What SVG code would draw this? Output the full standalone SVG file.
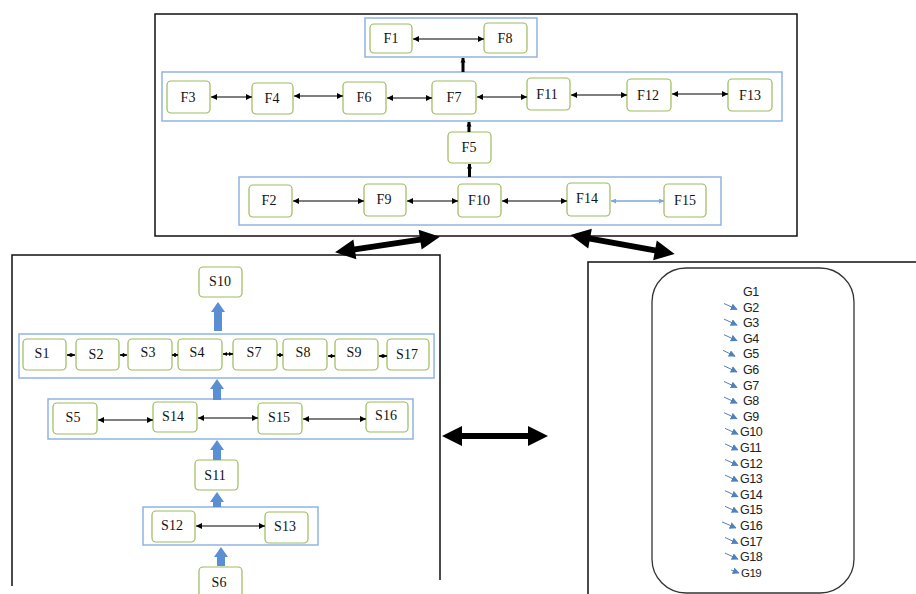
<svg xmlns="http://www.w3.org/2000/svg" width="916" height="594" viewBox="0 0 916 594">
<style>
.node rect{fill:#fff;stroke:#9bbb59;stroke-width:1.2}
.node text{font-family:"Liberation Serif","Times New Roman",serif;font-size:14px;fill:#111;text-anchor:middle}
.grp{fill:none;stroke:#8eb4e3;stroke-width:1.5}
.frame{fill:none;stroke:#111;stroke-width:1.5}
.thin{stroke:#000;stroke-width:1.2;fill:none;marker-start:url(#ah);marker-end:url(#ah)}
.thinb{stroke:#7fa7d9;stroke-width:1.5;fill:none;marker-start:url(#ahb);marker-end:url(#ahb)}
.tiny{stroke:#000;stroke-width:1.5;fill:none;marker-start:url(#aht);marker-end:url(#aht)}
.vert{stroke:#000;stroke-width:3;fill:none;marker-end:url(#ahv)}
.blk{fill:#5b8fd3}
.big{fill:#000}
.g text{font-family:"Liberation Sans",Arial,sans-serif;font-size:12.5px;fill:#222;letter-spacing:-0.5px}
.garr{stroke:#4f81bd;stroke-width:1;fill:none;marker-end:url(#ahg)}
</style>
<defs>
<marker id="ah" viewBox="0 0 10 10" refX="10" refY="5" markerWidth="7" markerHeight="6" markerUnits="userSpaceOnUse" orient="auto-start-reverse"><path d="M0,0 L10,5 L0,10 z" fill="#000"/></marker>
<marker id="ahb" viewBox="0 0 10 10" refX="10" refY="5" markerWidth="6" markerHeight="5" markerUnits="userSpaceOnUse" orient="auto-start-reverse"><path d="M0,0 L10,5 L0,10 z" fill="#7fa7d9"/></marker>
<marker id="aht" viewBox="0 0 10 10" refX="10" refY="5" markerWidth="4" markerHeight="7" markerUnits="userSpaceOnUse" orient="auto-start-reverse"><path d="M0,0 L10,5 L0,10 z" fill="#000"/></marker>
<marker id="ahv" viewBox="0 0 10 10" refX="9" refY="5" markerWidth="5" markerHeight="7" markerUnits="userSpaceOnUse" orient="auto"><path d="M0,0 L10,5 L0,10 z" fill="#000"/></marker>
<marker id="ahg" viewBox="0 0 10 10" refX="9" refY="5" markerWidth="7" markerHeight="7" markerUnits="userSpaceOnUse" orient="auto"><path d="M0,0 L10,5 L0,10 z" fill="#4f81bd"/></marker>
<path id="bigArrow" d="M-53,0 L-33,-10 L-33,-3 L33,-3 L33,-10 L53,0 L33,10 L33,3 L-33,3 L-33,10 Z"/>
</defs>
<rect width="916" height="594" fill="#fff"/>

<g id="panels">
<rect class="frame" x="155" y="14" width="642" height="222"/>
<path class="frame" d="M12,586 L12,255 L440,255 L440,580"/>
<path class="frame" d="M588,594 L588,262 L916,262"/>
<rect x="652" y="268" width="202" height="325" rx="34" ry="34" fill="none" stroke="#333" stroke-width="1.3"/>
</g>

<g id="groups">
<rect class="grp" x="365" y="18" width="172" height="39"/>
<rect class="grp" x="162" y="72" width="620" height="49"/>
<rect class="grp" x="239" y="177" width="482" height="48"/>
<rect class="grp" x="19" y="334" width="415" height="44"/>
<rect class="grp" x="48" y="399" width="365" height="40"/>
<rect class="grp" x="143" y="507" width="175" height="38"/>
</g>

<g id="F1" class="node"><rect x="370" y="24" width="42" height="29" rx="4"/><text x="391" y="43">F1</text></g>
<g id="F8" class="node"><rect x="484" y="23" width="43" height="30" rx="4"/><text x="505" y="43">F8</text></g>
<g id="F3" class="node"><rect x="167" y="81" width="43" height="32" rx="4"/><text x="188" y="102">F3</text></g>
<g id="F4" class="node"><rect x="252" y="83" width="41" height="31" rx="4"/><text x="272" y="103">F4</text></g>
<g id="F6" class="node"><rect x="343" y="82" width="43" height="32" rx="4"/><text x="364" y="102">F6</text></g>
<g id="F7" class="node"><rect x="432" y="81" width="44" height="33" rx="4"/><text x="454" y="102">F7</text></g>
<g id="F11" class="node"><rect x="527" y="78" width="43" height="32" rx="4"/><text x="547" y="99">F11</text></g>
<g id="F12" class="node"><rect x="627" y="79" width="44" height="32" rx="4"/><text x="648" y="100">F12</text></g>
<g id="F13" class="node"><rect x="728" y="79" width="44" height="32" rx="4"/><text x="750" y="100">F13</text></g>
<g id="F5" class="node"><rect x="448" y="132" width="43" height="31" rx="4"/><text x="469" y="152">F5</text></g>
<g id="F2" class="node"><rect x="249" y="185" width="43" height="32" rx="4"/><text x="269" y="205">F2</text></g>
<g id="F9" class="node"><rect x="364" y="184" width="42" height="32" rx="4"/><text x="384" y="204">F9</text></g>
<g id="F10" class="node"><rect x="458" y="184" width="43" height="33" rx="4"/><text x="479" y="205">F10</text></g>
<g id="F14" class="node"><rect x="567" y="183" width="43" height="33" rx="4"/><text x="587" y="203">F14</text></g>
<g id="F15" class="node"><rect x="664" y="184" width="42" height="33" rx="4"/><text x="685" y="205">F15</text></g>

<g id="S10" class="node"><rect x="199" y="267" width="43" height="30" rx="4"/><text x="220" y="286">S10</text></g>
<g id="S1" class="node"><rect x="23" y="339" width="43" height="31" rx="4"/><text x="42" y="358">S1</text></g>
<g id="S2" class="node"><rect x="76" y="339" width="43" height="31" rx="4"/><text x="96" y="359">S2</text></g>
<g id="S3" class="node"><rect x="128" y="339" width="44" height="31" rx="4"/><text x="148" y="357">S3</text></g>
<g id="S4" class="node"><rect x="178" y="339" width="44" height="31" rx="4"/><text x="197" y="357">S4</text></g>
<g id="S7" class="node"><rect x="233" y="339" width="44" height="31" rx="4"/><text x="254" y="357">S7</text></g>
<g id="S8" class="node"><rect x="283" y="339" width="44" height="31" rx="4"/><text x="303" y="357">S8</text></g>
<g id="S9" class="node"><rect x="335" y="339" width="43" height="31" rx="4"/><text x="354" y="357">S9</text></g>
<g id="S17" class="node"><rect x="387" y="339" width="42" height="31" rx="4"/><text x="407" y="359">S17</text></g>
<g id="S5" class="node"><rect x="53" y="403" width="44" height="31" rx="4"/><text x="73" y="422">S5</text></g>
<g id="S14" class="node"><rect x="153" y="402" width="44" height="30" rx="4"/><text x="173" y="421">S14</text></g>
<g id="S15" class="node"><rect x="258" y="403" width="44" height="31" rx="4"/><text x="279" y="422">S15</text></g>
<g id="S16" class="node"><rect x="366" y="402" width="42" height="30" rx="4"/><text x="386" y="420">S16</text></g>
<g id="S11" class="node"><rect x="195" y="460" width="43" height="30" rx="4"/><text x="215" y="480">S11</text></g>
<g id="S12" class="node"><rect x="152" y="511" width="43" height="31" rx="4"/><text x="172" y="530">S12</text></g>
<g id="S13" class="node"><rect x="265" y="512" width="43" height="31" rx="4"/><text x="285" y="531">S13</text></g>
<g id="S6" class="node"><rect x="199" y="567" width="43" height="32" rx="4"/><text x="219" y="587">S6</text></g>

<g id="G" class="g">
<text x="743" y="296">G1</text>
<text x="743" y="311.6">G2</text>
<text x="743" y="327.2">G3</text>
<text x="743" y="342.8">G4</text>
<text x="743" y="358.4">G5</text>
<text x="743" y="374">G6</text>
<text x="743" y="389.6">G7</text>
<text x="743" y="405.2">G8</text>
<text x="743" y="420.8">G9</text>
<text x="740" y="436.4">G10</text>
<text x="740" y="452">G11</text>
<text x="740" y="467.6">G12</text>
<text x="740" y="483.2">G13</text>
<text x="740" y="498.8">G14</text>
<text x="740" y="514.4">G15</text>
<text x="740" y="530">G16</text>
<text x="740" y="545.6">G17</text>
<text x="740" y="561.2">G18</text>
<text x="741" y="576.8" style="font-size:11.5px">G19</text>
</g>

<g id="connectors">
<line class="thin" x1="413" y1="39" x2="484" y2="39"/>
<line class="thin" x1="211" y1="97" x2="252" y2="97"/>
<line class="thin" x1="294" y1="96" x2="343" y2="96"/>
<line class="thin" x1="387" y1="98" x2="432" y2="98"/>
<line class="thin" x1="477" y1="97" x2="527" y2="97"/>
<line class="thin" x1="571" y1="95" x2="627" y2="95"/>
<line class="thin" x1="672" y1="94" x2="728" y2="94"/>
<line class="thin" x1="293" y1="201" x2="364" y2="201"/>
<line class="thin" x1="407" y1="201" x2="458" y2="201"/>
<line class="thin" x1="502" y1="201" x2="567" y2="201"/>
<line class="thinb" x1="611" y1="201" x2="664" y2="201"/>
<line class="vert" x1="463" y1="72" x2="463" y2="58"/>
<line class="vert" x1="469" y1="132" x2="469" y2="122"/>
<line class="vert" x1="469.5" y1="177" x2="469.5" y2="164"/>

<line class="tiny" x1="67" y1="355" x2="75" y2="355"/>
<line class="tiny" x1="120" y1="355" x2="127" y2="355"/>
<line class="tiny" x1="172" y1="355" x2="178" y2="355"/>
<line class="tiny" x1="223" y1="354" x2="233" y2="354"/>
<line class="tiny" x1="277" y1="355" x2="283" y2="355"/>
<line class="tiny" x1="328" y1="356" x2="335" y2="356"/>
<line class="tiny" x1="379" y1="356" x2="387" y2="356"/>
<line class="thin" x1="98" y1="420" x2="153" y2="420"/>
<line class="thin" x1="198" y1="418" x2="258" y2="418"/>
<line class="thin" x1="303" y1="419" x2="366" y2="419"/>
<line class="thin" x1="196" y1="526" x2="265" y2="526"/>

<path class="blk" d="M214,331 L214,312 L211,312 L218,302 L225,312 L222,312 L222,331 Z"/>
<path class="blk" d="M213,400 L213,389 L210,389 L217,379 L224,389 L221,389 L221,400 Z"/>
<path class="blk" d="M213,460 L213,450 L210,450 L217,440 L224,450 L221,450 L221,460 Z"/>
<path class="blk" d="M213,507 L213,502 L210,502 L217,492 L224,502 L221,502 L221,507 Z"/>
<path class="blk" d="M217,566 L217,557 L214,557 L221,547 L228,557 L225,557 L225,566 Z"/>

<use href="#bigArrow" class="big" transform="translate(387.5,244.5) rotate(-8.5)"/>
<use href="#bigArrow" class="big" transform="translate(622.5,244.5) rotate(10.3)"/>
<use href="#bigArrow" class="big" transform="translate(495,436)"/>

<line class="garr" x1="724" y1="303.5" x2="737" y2="309.5"/>
<line class="garr" x1="724" y1="319.1" x2="737" y2="325.1"/>
<line class="garr" x1="724" y1="334.7" x2="737" y2="340.7"/>
<line class="garr" x1="723" y1="350.3" x2="735" y2="356.3"/>
<line class="garr" x1="724" y1="365.9" x2="737" y2="371.9"/>
<line class="garr" x1="724" y1="381.5" x2="737" y2="387.5"/>
<line class="garr" x1="724" y1="397.1" x2="737" y2="403.1"/>
<line class="garr" x1="724" y1="412.7" x2="737" y2="418.7"/>
<line class="garr" x1="725" y1="428.3" x2="738" y2="434.3"/>
<line class="garr" x1="725" y1="443.9" x2="738" y2="449.9"/>
<line class="garr" x1="725" y1="459.5" x2="738" y2="465.5"/>
<line class="garr" x1="725" y1="475.1" x2="738" y2="481.1"/>
<line class="garr" x1="725" y1="490.7" x2="738" y2="496.7"/>
<line class="garr" x1="725" y1="506.3" x2="738" y2="512.3"/>
<line class="garr" x1="722" y1="521.9" x2="736" y2="527.9"/>
<line class="garr" x1="725" y1="537.5" x2="738" y2="543.5"/>
<line class="garr" x1="725" y1="553.1" x2="738" y2="559.1"/>
<line class="garr" x1="731" y1="570" x2="739" y2="573" style="stroke:#888"/>
</g>
</svg>
